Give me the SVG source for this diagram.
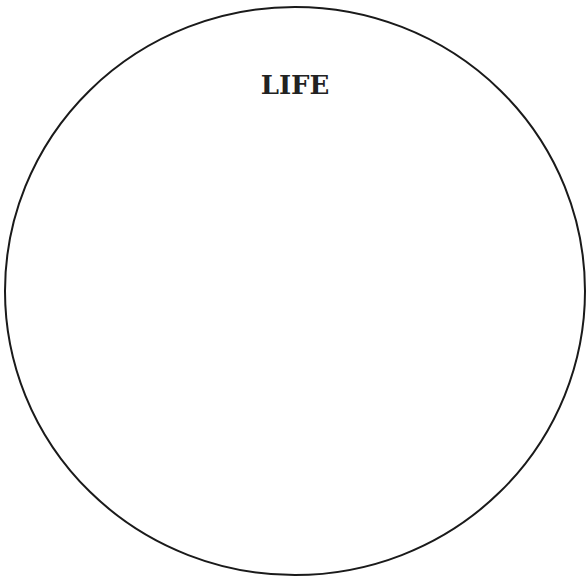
<svg xmlns="http://www.w3.org/2000/svg" width="586" height="578" viewBox="0 0 586 578">
<style>
.outline{fill:#ffffff;stroke:#1a1a1a;stroke-width:2}
.title{font-family:"DejaVu Serif","Liberation Serif",serif;font-weight:bold;font-size:26px;fill:#222222;text-anchor:middle}
</style>
<rect width="586" height="578" fill="#ffffff"/>
<g id="life">
<ellipse class="outline" cx="295" cy="291" rx="290" ry="284"/>
<text class="title" x="295" y="94">LIFE</text>
</g>
<g id="connectors"/>
</svg>
